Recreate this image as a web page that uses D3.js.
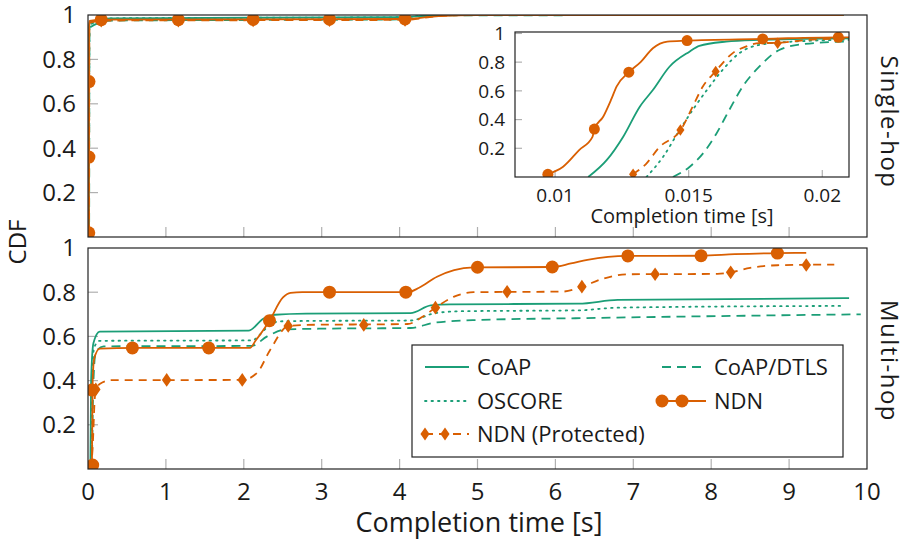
<!DOCTYPE html>
<html>
<head>
<meta charset="utf-8">
<script src="https://d3js.org/d3.v7.min.js"></script>
<style>
  body { margin: 0; background: #fff; }
  svg { font-family: 'Open Sans', sans-serif; }
  text { fill: #1a1a1a; }
  .frame { fill: none; stroke: #222; stroke-width: 1.2px; }
  .tick { stroke: #b0b0b0; stroke-width: 1.2px; }
  .curve { fill: none; stroke-width: 1.8px; }
</style>
</head>
<body>
<svg id="chart" width="908" height="550"></svg>
<script>
// ---- data ----
var xTicks = [0, 1, 2, 3, 4, 5, 6, 7, 8, 9, 10];
var yTicks = [0.2, 0.4, 0.6, 0.8, 1];
var insetXTicks = [0.01, 0.015, 0.02];
var insetYTicks = [0.2, 0.4, 0.6, 0.8, 1];
var seriesNames = ["CoAP", "CoAP/DTLS", "OSCORE", "NDN", "NDN (Protected)"];

// single-hop, completion time [s] vs CDF
var singleCoap = [[0.01124, 0], [0.01193, 0.117], [0.01255, 0.281], [0.01317, 0.49], [0.01366, 0.606],
  [0.01428, 0.768], [0.01503, 0.873], [0.0154, 0.913], [0.0164, 0.943], [0.01764, 0.955],
  [0.021, 0.966], [0.3, 0.985], [4.0, 0.99], [4.5, 1], [9.7, 1]];
var singleDtls = [[0.01441, 0], [0.01503, 0.07], [0.01553, 0.163], [0.01603, 0.30], [0.01652, 0.467],
  [0.01702, 0.63], [0.01764, 0.768], [0.01839, 0.885], [0.01926, 0.925], [0.021, 0.943],
  [0.3, 0.975], [4.0, 0.98], [4.5, 0.998], [9.7, 1]];
var singleOscore = [[0.01342, 0], [0.01404, 0.14], [0.01466, 0.327], [0.01515, 0.467], [0.01578, 0.63],
  [0.01627, 0.746], [0.0169, 0.863], [0.01764, 0.92], [0.0189, 0.943], [0.021, 0.955],
  [0.3, 0.985], [4.0, 0.99], [4.5, 1], [9.7, 1]];
var singleNdn = [[0.0097, 0.019], [0.0103, 0.072], [0.0109, 0.188], [0.0114, 0.28], [0.01147, 0.334],
  [0.0118, 0.42], [0.0121, 0.54], [0.0123, 0.63], [0.01276, 0.73], [0.0132, 0.80], [0.01366, 0.897],
  [0.0142, 0.943], [0.0149, 0.95], [0.0178, 0.962], [0.0206, 0.973], [0.2, 0.979], [4.07, 0.982],
  [4.5, 0.995], [5, 1], [9.7, 1]];
var singleNdnP = [[0.0129, 0.019], [0.0134, 0.09], [0.0139, 0.207], [0.0147, 0.327], [0.01515, 0.49],
  [0.01553, 0.63], [0.016, 0.735], [0.01665, 0.863], [0.01716, 0.91], [0.01764, 0.932],
  [0.01833, 0.935], [0.0195, 0.955], [0.021, 0.965], [0.2, 0.975], [4.07, 0.978], [4.5, 0.995],
  [5, 1], [9.7, 1]];
var singleNdnMarks = [[0.0097, 0.019], [0.0115, 0.36], [0.0127, 0.70], [0.17, 0.979], [1.16, 0.979],
  [2.12, 0.98], [3.1, 0.981], [4.07, 0.982]];
var singleNdnPMarks = [[0.0129, 0.019], [0.17, 0.975], [1.16, 0.975], [2.12, 0.976], [3.1, 0.977],
  [4.07, 0.978]];
var insetNdnMarks = [[0.00973, 0.019], [0.01147, 0.334], [0.01276, 0.73], [0.01494, 0.95],
  [0.01777, 0.962], [0.0206, 0.973]];
var insetNdnPMarks = [[0.01292, 0.019], [0.01469, 0.327], [0.01601, 0.735], [0.01833, 0.932]];

// multi-hop
var multiCoap = [[0.03, 0], [0.04, 0.4], [0.07, 0.57], [0.15, 0.622], [2.06, 0.626], [2.25, 0.68],
  [2.4, 0.698], [2.8, 0.703], [4.14, 0.705], [4.4, 0.74], [4.65, 0.745], [6.3, 0.748], [6.8, 0.765],
  [9.77, 0.773]];
var multiDtls = [[0.05, 0], [0.07, 0.4], [0.1, 0.53], [0.2, 0.555], [2.1, 0.557], [2.3, 0.6],
  [2.55, 0.632], [3, 0.635], [4.14, 0.638], [4.45, 0.662], [5.0, 0.674], [6.4, 0.683], [7.7, 0.69],
  [9.92, 0.70]];
var multiOscore = [[0.04, 0], [0.05, 0.4], [0.08, 0.55], [0.15, 0.58], [2.1, 0.582], [2.3, 0.64],
  [2.45, 0.668], [2.8, 0.67], [4.14, 0.672], [4.45, 0.705], [4.8, 0.714], [6.3, 0.718], [6.8, 0.73],
  [9.67, 0.738]];
var multiNdn = [[0.05, 0], [0.055, 0.2], [0.06, 0.4], [0.08, 0.5], [0.15, 0.545], [0.6, 0.548],
  [2.08, 0.548], [2.15, 0.58], [2.33, 0.671], [2.5, 0.775], [2.6, 0.797], [2.75, 0.8], [4.1, 0.8],
  [4.25, 0.82], [4.48, 0.87], [4.7, 0.9], [4.95, 0.912], [5.96, 0.914], [6.2, 0.93], [6.41, 0.946],
  [6.93, 0.964], [7.87, 0.965], [8.3, 0.972], [8.85, 0.977], [9.22, 0.978]];
var multiNdnP = [[0.04, 0], [0.06, 0.1], [0.09, 0.33], [0.15, 0.385], [0.3, 0.402], [1.98, 0.403],
  [2.17, 0.435], [2.34, 0.54], [2.57, 0.647], [2.8, 0.652], [4.1, 0.656], [4.3, 0.69], [4.46, 0.73],
  [4.7, 0.78], [4.95, 0.8], [6.1, 0.803], [6.34, 0.825], [6.6, 0.86], [6.93, 0.881], [8.08, 0.883],
  [8.25, 0.89], [8.5, 0.91], [8.85, 0.922], [9.58, 0.925]];
var multiNdnMarks = [[0.06, 0.018], [0.05, 0.357], [0.57, 0.548], [1.55, 0.548], [2.33, 0.671],
  [3.1, 0.8], [4.08, 0.8], [5.0, 0.913], [5.96, 0.914], [6.93, 0.964], [7.87, 0.965], [8.85, 0.977]];
var multiNdnPMarks = [[0.05, 0.01], [0.1, 0.36], [1.01, 0.403], [1.98, 0.403], [2.57, 0.647],
  [3.54, 0.652], [4.46, 0.73], [5.38, 0.802], [6.34, 0.825], [7.28, 0.881], [8.25, 0.89], [9.22, 0.923]];

// ---- styles ----
var green = "#1b9e77", orange = "#d95f02";
var styles = {
  "CoAP": { color: green, dash: null },
  "CoAP/DTLS": { color: green, dash: "9,6" },
  "OSCORE": { color: green, dash: "1.5,5", cap: "round" },
  "NDN": { color: orange, dash: null, mark: "circle" },
  "NDN (Protected)": { color: orange, dash: "8,6", mark: "diamond" }
};

var svg = d3.select("#chart");

var xMain = d3.scaleLinear().domain([0, 10]).range([88, 867]);
var yTop = d3.scaleLinear().domain([0, 1]).range([237, 15]);
var yBottom = d3.scaleLinear().domain([0, 1]).range([469, 248]);
var xInset = d3.scaleLinear().domain([0.0085, 0.021]).range([515, 849]);
var yInset = d3.scaleLinear().domain([0, 1.01]).range([177, 32]);

function markPath(type, r) {
  if (type === "circle") return d3.symbol().type(d3.symbolCircle).size(Math.PI * r * r)();
  var w = r * 0.7, h = r;
  return "M0," + (-h) + "L" + w + ",0L0," + h + "L" + (-w) + ",0Z";
}

var clipCount = 0;
function panel(x, y, series, opt) {
  var g = svg.append("g");
  var x0 = x.range()[0], x1 = x.range()[1], y0 = y.range()[0], y1 = y.range()[1];
  var id = "clip" + (clipCount++);
  svg.append("clipPath").attr("id", id).append("rect")
    .attr("x", x0).attr("y", y1).attr("width", x1 - x0).attr("height", y0 - y1);

  if (opt.background) {
    g.append("rect").attr("x", x0).attr("y", y1).attr("width", x1 - x0).attr("height", y0 - y1)
      .attr("fill", "#fff");
  }

  // ticks inside the frame
  g.append("g").selectAll("line")
    .data(opt.xTicks.filter(t => x(t) > x0 + 1 && x(t) < x1 - 1))
    .enter().append("line")
      .attr("class", "tick")
      .attr("x1", d => x(d)).attr("x2", d => x(d))
      .attr("y1", y0).attr("y2", y0 - opt.tickLen);
  g.append("g").selectAll("line")
    .data(opt.yTicks.filter(t => y(t) < y0 - 1 && y(t) > y1 + 1))
    .enter().append("line")
      .attr("class", "tick")
      .attr("x1", x0).attr("x2", x0 + opt.tickLen)
      .attr("y1", d => y(d)).attr("y2", d => y(d));

  var plot = g.append("g").attr("clip-path", "url(#" + id + ")");
  var line = d3.line().x(d => x(d[0])).y(d => y(d[1])).curve(d3.curveMonotoneX);

  series.forEach(s => {
    var st = styles[s.name];
    plot.append("path")
      .attr("class", "curve")
      .attr("d", line(s.values))
      .attr("stroke", st.color)
      .attr("stroke-dasharray", st.dash)
      .attr("stroke-linecap", st.cap || "butt");
    if (s.marks) {
      plot.append("g").selectAll("path")
        .data(s.marks)
        .enter().append("path")
          .attr("transform", d => "translate(" + x(d[0]) + "," + y(d[1]) + ")")
          .attr("d", markPath(st.mark, st.mark === "circle" ? opt.markR : opt.markR * 1.05))
          .attr("fill", st.color);
    }
  });

  g.append("rect").attr("class", "frame")
    .attr("x", x0).attr("y", y1).attr("width", x1 - x0).attr("height", y0 - y1);

  // tick labels
  g.append("g").selectAll("text")
    .data(opt.yLabels)
    .enter().append("text")
      .attr("x", x0 - opt.yLabelPad)
      .attr("y", d => y(d))
      .attr("dy", "0.35em")
      .attr("text-anchor", "end")
      .style("font-size", opt.fontSize + "px")
      .text(d => d3.format("~g")(d));
  if (opt.xLabels) {
    g.append("g").selectAll("text")
      .data(opt.xLabels)
      .enter().append("text")
        .attr("x", d => x(d))
        .attr("y", y0 + opt.xLabelPad)
        .attr("text-anchor", "middle")
        .style("font-size", opt.fontSize + "px")
        .text(d => d3.format("~g")(d));
  }
  return g;
}

panel(xMain, yTop, [
  { name: "CoAP", values: singleCoap },
  { name: "CoAP/DTLS", values: singleDtls },
  { name: "OSCORE", values: singleOscore },
  { name: "NDN", values: singleNdn, marks: singleNdnMarks },
  { name: "NDN (Protected)", values: singleNdnP, marks: singleNdnPMarks }
], { xTicks: xTicks, yTicks: yTicks, tickLen: 10, markR: 6.5, yLabels: yTicks, yLabelPad: 12, fontSize: 24 });

panel(xMain, yBottom, [
  { name: "CoAP", values: multiCoap },
  { name: "CoAP/DTLS", values: multiDtls },
  { name: "OSCORE", values: multiOscore },
  { name: "NDN", values: multiNdn, marks: multiNdnMarks },
  { name: "NDN (Protected)", values: multiNdnP, marks: multiNdnPMarks }
], { xTicks: xTicks, yTicks: yTicks, tickLen: 10, markR: 6.5, yLabels: yTicks, yLabelPad: 12,
     xLabels: xTicks, xLabelPad: 31, fontSize: 24 });

panel(xInset, yInset, [
  { name: "CoAP", values: singleCoap },
  { name: "CoAP/DTLS", values: singleDtls },
  { name: "OSCORE", values: singleOscore },
  { name: "NDN", values: singleNdn, marks: insetNdnMarks },
  { name: "NDN (Protected)", values: singleNdnP, marks: insetNdnPMarks }
], { background: true, xTicks: insetXTicks, yTicks: insetYTicks, tickLen: 7, markR: 5.5,
     yLabels: insetYTicks, yLabelPad: 10, xLabels: insetXTicks, xLabelPad: 25, fontSize: 19 });

// axis titles
svg.append("text").attr("x", 479).attr("y", 532).attr("text-anchor", "middle")
  .style("font-size", "27px").text("Completion time [s]");
svg.append("text").attr("x", 682).attr("y", 223).attr("text-anchor", "middle")
  .style("font-size", "20px").text("Completion time [s]");
svg.append("text").attr("transform", "translate(26,242) rotate(-90)").attr("text-anchor", "middle")
  .style("font-size", "24px").text("CDF");
svg.append("text").attr("transform", "translate(881,122) rotate(90)").attr("text-anchor", "middle")
  .style("font-size", "24px").style("letter-spacing", "1.5px").text("Single-hop");
svg.append("text").attr("transform", "translate(881,361) rotate(90)").attr("text-anchor", "middle")
  .style("font-size", "24px").style("letter-spacing", "1.5px").text("Multi-hop");

// legend
var legend = svg.append("g");
legend.append("rect").attr("class", "frame")
  .attr("x", 412).attr("y", 345).attr("width", 431).attr("height", 112)
  .style("fill", "#fff");
var legendPos = [[425, 367], [662, 367], [425, 401], [662, 401], [425, 434]];
var items = legend.selectAll("g.item")
  .data(seriesNames)
  .enter().append("g")
    .attr("class", "item")
    .attr("transform", (d, i) => "translate(" + legendPos[i][0] + "," + legendPos[i][1] + ")");
items.append("line")
  .attr("x1", 0).attr("x2", 44).attr("y1", 0).attr("y2", 0)
  .attr("class", "curve")
  .attr("stroke", d => styles[d].color)
  .attr("stroke-dasharray", d => styles[d].dash)
  .attr("stroke-linecap", d => styles[d].cap || "butt");
items.filter(d => styles[d].mark).selectAll("path")
  .data(d => [0, 20].map(o => ({ o: o, s: styles[d] })))
  .enter().append("path")
    .attr("transform", d => "translate(" + d.o + ",0)")
    .attr("d", d => markPath(d.s.mark, 6.5))
    .attr("fill", d => d.s.color);
items.append("text")
  .attr("x", 52).attr("dy", "0.35em")
  .style("font-size", "22px")
  .text(d => d);
</script>
</body>
</html>
